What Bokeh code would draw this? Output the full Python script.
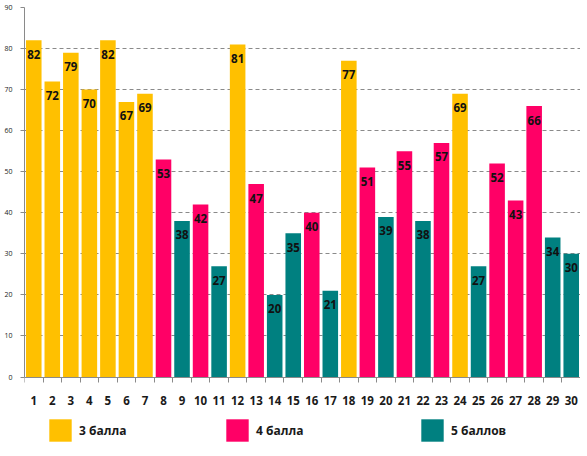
from bokeh.plotting import figure
from bokeh.models import ColumnDataSource, FixedTicker, Legend, LegendItem, LinearAxis, Range1d
from bokeh.core.properties import value
from bokeh.embed import file_html
from bokeh.resources import INLINE

# ---- data ----
categories = list(range(1, 31))
scores = [82, 72, 79, 70, 82, 67, 69, 53, 38, 42, 27, 81, 47, 20, 35,
          40, 21, 77, 51, 39, 55, 38, 57, 69, 27, 52, 43, 66, 34, 30]
grades = ["3", "3", "3", "3", "3", "3", "3", "4", "5", "4", "5", "3", "4", "5", "5",
          "4", "5", "3", "4", "5", "4", "5", "4", "3", "5", "4", "4", "4", "5", "5"]
group_keys = ["3", "4", "5"]
group_names = ["3 балла", "4 балла", "5 баллов"]
group_colors = ["#FFC000", "#FF0066", "#008080"]
y_ticks = [0, 10, 20, 30, 40, 50, 60, 70, 80, 90]

# ---- layout constants (pixels) ----
W, H = 580, 450
BORDER_L, BORDER_T = 24.5, 7
FRAME_W = W - BORDER_L
FRAME_H = H - BORDER_T
ZERO_FROM_BOTTOM = 73.5          # px from frame bottom to y=0
TOP_VAL = 90
scale = (FRAME_H - ZERO_FROM_BOTTOM) / TOP_VAL
y_start = -ZERO_FROM_BOTTOM / scale

FONT = "Open Sans"

p = figure(width=W, height=H, output_backend="svg", toolbar_location=None,
           x_range=Range1d(0.5, 30.5), y_range=Range1d(y_start, TOP_VAL),
           min_border_left=int(BORDER_L), min_border_right=0, min_border_top=BORDER_T,
           min_border_bottom=0, x_axis_location=None, y_axis_location=None)
p.outline_line_color = None
p.background_fill_color = "white"
p.border_fill_color = "white"

# grid
p.xgrid.visible = False
p.ygrid.ticker = FixedTicker(ticks=y_ticks[1:])
p.ygrid.grid_line_color = "#8a8a8a"
p.ygrid.grid_line_dash = "4 3"
p.ygrid.grid_line_width = 1

# bars per group
legends = []
legend_x = [22, 199, 394]
for key, name, color, lx in zip(group_keys, group_names, group_colors, legend_x):
    xs = [c for c, g in zip(categories, grades) if g == key]
    vs = [v for v, g in zip(scores, grades) if g == key]
    src = ColumnDataSource(dict(x=xs, top=vs))
    r = p.vbar(x="x", top="top", bottom=0, width=0.84, source=src,
               fill_color=color, line_color=None)
    lg = Legend(items=[LegendItem(label=name, renderers=[r])], location=(lx, 6),
                orientation="horizontal", padding=0, margin=0, spacing=0,
                glyph_width=28, glyph_height=28, label_standoff=5,
                border_line_color=None, background_fill_alpha=0,
                label_text_font=FONT, label_text_font_style="bold",
                label_text_font_size="12px", label_text_color="#1a1a1a")
    legends.append(lg)

for lg in legends:
    p.add_layout(lg, "center")

# data labels
lab_src = ColumnDataSource(dict(x=categories, y=scores, t=[str(v) for v in scores]))
p.text(x="x", y="y", text="t", source=lab_src, text_align="center",
       text_baseline="middle", y_offset=14, text_font=value(FONT),
       text_font_style="bold", text_font_size="11.5px", text_color="#111111")

# y axis
yax = LinearAxis(ticker=FixedTicker(ticks=y_ticks), bounds=(0, TOP_VAL),
                 axis_line_color="#8a8a8a", major_tick_line_color="#8a8a8a",
                 major_tick_in=0, major_tick_out=4, minor_tick_line_color=None,
                 major_label_standoff=8, major_label_text_font=FONT,
                 major_label_text_font_size="7px", major_label_text_color="#222222")
p.add_layout(yax, "left")

# x axis at y=0
xax = LinearAxis(ticker=FixedTicker(ticks=categories,
                                    minor_ticks=[c - 0.5 for c in categories] + [categories[-1] + 0.5]),
                 fixed_location=0, axis_line_color="#8a8a8a",
                 major_tick_line_color=None, major_tick_in=0, major_tick_out=0,
                 minor_tick_line_color="#8a8a8a", minor_tick_in=0, minor_tick_out=5,
                 major_label_standoff=14, major_label_text_font=FONT,
                 major_label_text_font_style="bold", major_label_text_font_size="11.5px",
                 major_label_text_color="#1a1a1a")
p.add_layout(xax, "below")

open("out.html", "w").write(file_html(p, INLINE))
